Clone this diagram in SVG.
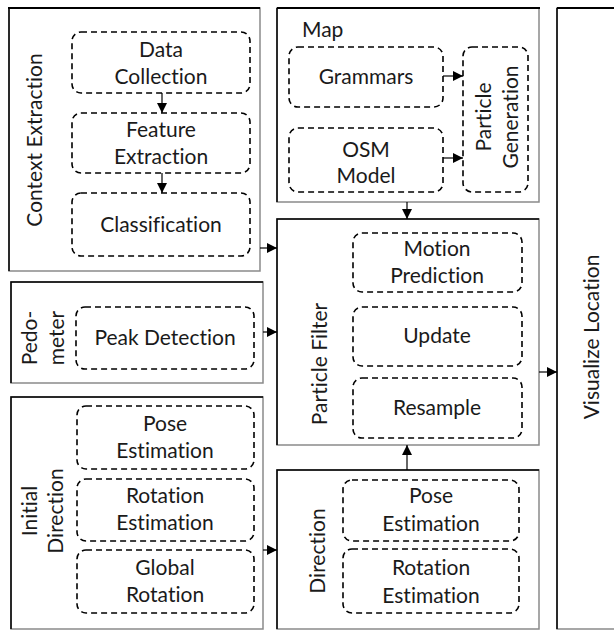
<svg xmlns="http://www.w3.org/2000/svg" width="614" height="630" viewBox="0 0 614 630">
  <style>
    .bg { fill: #ffffff; }
    .frame { fill: none; stroke: #8a8a8a; stroke-width: 1.5; }
    .edge { fill: none; stroke: #000000; stroke-width: 1.5; }
    .top { fill: none; stroke: #000000; stroke-width: 2; }
    .step { fill: none; stroke: #000000; stroke-width: 1.6; stroke-dasharray: 6 4; }
    .t, .tl { font-family: Lato, "Liberation Sans", sans-serif; font-size: 21px; fill: #1a1a1a; font-variant-ligatures: none; }
    .t { text-anchor: middle; }
    .tl { text-anchor: start; }
    .conn { fill: none; stroke: #000000; stroke-width: 1.2; marker-end: url(#arrow); }
  </style>
  <defs>
    <marker id="arrow" markerUnits="userSpaceOnUse" markerWidth="10" markerHeight="10" refX="10" refY="5" orient="auto">
      <path d="M0,0 L10,5 L0,10 Z" fill="#000000"/>
    </marker>
  </defs>
  <rect class="bg" x="0" y="0" width="614" height="630"/>

  <!-- Context Extraction -->
  <g id="context-extraction">
    <rect class="frame" x="9" y="8" width="251" height="263"/>
    <path class="edge" d="M9,271 V8"/>
    <path class="top" d="M8,8 H260"/>
    <text class="t" transform="translate(42,140) rotate(-90)">Context Extraction</text>
    <g id="data-collection">
      <rect class="step" x="72" y="32" width="178" height="61" rx="9"/>
      <text class="t" x="161" y="57">Data</text>
      <text class="t" x="161" y="84">Collection</text>
    </g>
    <g id="feature-extraction">
      <rect class="step" x="72" y="113" width="178" height="60" rx="9"/>
      <text class="t" x="161" y="137">Feature</text>
      <text class="t" x="161" y="164">Extraction</text>
    </g>
    <g id="classification">
      <rect class="step" x="72" y="193" width="178" height="63" rx="9"/>
      <text class="t" x="161" y="232">Classification</text>
    </g>
  </g>

  <!-- Map -->
  <g id="map">
    <rect class="frame" x="277" y="8" width="262" height="194"/>
    <path class="edge" d="M277,202 V8"/>
    <path class="top" d="M277,8 H540"/>
    <text class="tl" x="302" y="37">Map</text>
    <g id="grammars">
      <rect class="step" x="289" y="47" width="154" height="60" rx="9"/>
      <text class="t" x="366" y="84">Grammars</text>
    </g>
    <g id="osm-model">
      <rect class="step" x="289" y="128" width="154" height="64" rx="9"/>
      <text class="t" x="366" y="157">OSM</text>
      <text class="t" x="366" y="183">Model</text>
    </g>
    <g id="particle-generation">
      <rect class="step" x="463" y="47" width="65" height="145" rx="9"/>
      <text class="t" transform="translate(491,117) rotate(-90)">Particle</text>
      <text class="t" transform="translate(518,117) rotate(-90)">Generation</text>
    </g>
  </g>

  <!-- Visualize Location -->
  <g id="visualize-location">
    <rect class="frame" x="557" y="8" width="70" height="621"/>
    <path class="edge" d="M557,629 V8"/>
    <path class="top" d="M557,8 H614"/>
    <text class="t" transform="translate(599,337) rotate(-90)">Visualize Location</text>
  </g>

  <!-- Particle Filter -->
  <g id="particle-filter">
    <rect class="frame" x="277" y="219" width="262" height="226"/>
    <path class="edge" d="M277,445 V219 H539"/>
    <text class="t" transform="translate(327,364) rotate(-90)">Particle Filter</text>
    <g id="motion-prediction">
      <rect class="step" x="353" y="233" width="169" height="59" rx="9"/>
      <text class="t" x="437" y="256">Motion</text>
      <text class="t" x="437" y="283">Prediction</text>
    </g>
    <g id="update">
      <rect class="step" x="353" y="307" width="169" height="59" rx="9"/>
      <text class="t" x="437" y="343">Update</text>
    </g>
    <g id="resample">
      <rect class="step" x="353" y="378" width="169" height="60" rx="9"/>
      <text class="t" x="437" y="415">Resample</text>
    </g>
  </g>

  <!-- Pedometer -->
  <g id="pedometer">
    <rect class="frame" x="11" y="282" width="252" height="101"/>
    <path class="edge" d="M11,383 V282 H263"/>
    <text class="t" transform="translate(37,338) rotate(-90)">Pedo-</text>
    <text class="t" transform="translate(64,338) rotate(-90)">meter</text>
    <g id="peak-detection">
      <rect class="step" x="76" y="307" width="178" height="62" rx="9"/>
      <text class="t" x="165" y="345">Peak Detection</text>
    </g>
  </g>

  <!-- Initial Direction -->
  <g id="initial-direction">
    <rect class="frame" x="11" y="397" width="252" height="232"/>
    <path class="edge" d="M11,629 V397 H263"/>
    <text class="t" transform="translate(37,511) rotate(-90)">Initial</text>
    <text class="t" transform="translate(63,511) rotate(-90)">Direction</text>
    <g id="initial-pose-estimation">
      <rect class="step" x="77" y="406" width="177" height="63" rx="9"/>
      <text class="t" x="165" y="431">Pose</text>
      <text class="t" x="165" y="458">Estimation</text>
    </g>
    <g id="initial-rotation-estimation">
      <rect class="step" x="77" y="479" width="177" height="62" rx="9"/>
      <text class="t" x="165" y="503">Rotation</text>
      <text class="t" x="165" y="530">Estimation</text>
    </g>
    <g id="global-rotation">
      <rect class="step" x="77" y="550" width="177" height="63" rx="9"/>
      <text class="t" x="165" y="575">Global</text>
      <text class="t" x="165" y="602">Rotation</text>
    </g>
  </g>

  <!-- Direction -->
  <g id="direction">
    <rect class="frame" x="277" y="470" width="262" height="159"/>
    <path class="edge" d="M277,629 V470 H539"/>
    <text class="t" transform="translate(325,551) rotate(-90)">Direction</text>
    <g id="pose-estimation">
      <rect class="step" x="343" y="480" width="176" height="61" rx="9"/>
      <text class="t" x="431" y="503">Pose</text>
      <text class="t" x="431" y="531">Estimation</text>
    </g>
    <g id="rotation-estimation">
      <rect class="step" x="343" y="549" width="176" height="64" rx="9"/>
      <text class="t" x="431" y="575">Rotation</text>
      <text class="t" x="431" y="603">Estimation</text>
    </g>
  </g>

  <!-- Connectors -->
  <g id="connectors">
    <path class="conn" d="M162,93 V113"/>
    <path class="conn" d="M162,173 V193"/>
    <path class="conn" d="M443,76 H463"/>
    <path class="conn" d="M443,158 H463"/>
    <path class="conn" d="M407,202 V219"/>
    <path class="conn" d="M260,248 H277"/>
    <path class="conn" d="M263,332 H277"/>
    <path class="conn" d="M263,550 H277"/>
    <path class="conn" d="M407,470 V445"/>
    <path class="conn" d="M539,372 H557"/>
  </g>
</svg>
